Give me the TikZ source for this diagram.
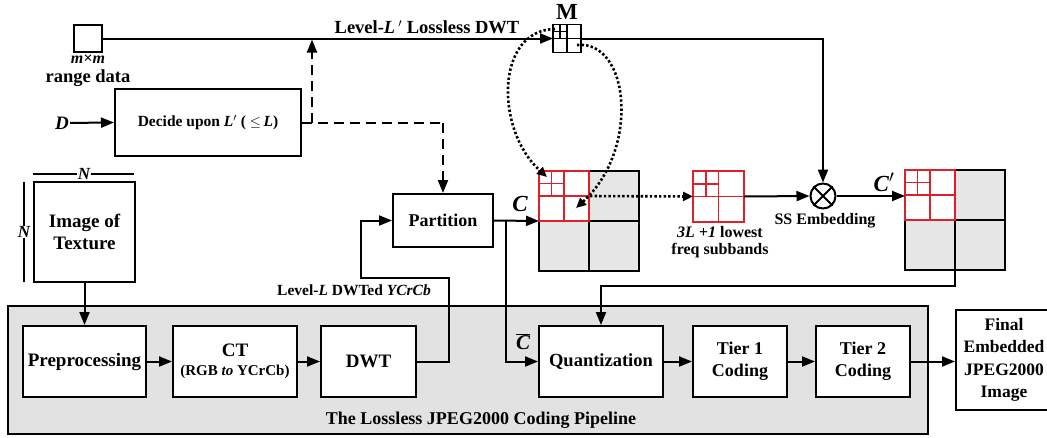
\documentclass[tikz,border=0pt]{standalone}
\usepackage{fontspec}
\setmainfont{Liberation Serif}
\usetikzlibrary{arrows.meta,calc}
\definecolor{gridred}{RGB}{222,32,40}
\definecolor{pipegray}{RGB}{226,226,226}
\definecolor{cellgray}{RGB}{230,230,230}
\newcommand\myfs[2]{\fontsize{#1}{#2}\selectfont}
\tikzset{
  blk/.style={draw, line width=2pt, fill=white, align=center, inner sep=0pt},
  arr/.style={line width=2pt, -{Triangle[length=13pt,width=10pt]}},
  dasharr/.style={line width=2pt, dash pattern=on 10pt off 6pt, -{Triangle[length=13pt,width=10pt]}},
  dashln/.style={line width=2pt, dash pattern=on 10pt off 6pt},
  dotarr/.style={line width=2.6pt, dash pattern=on 2.4pt off 2.2pt, -{Triangle[length=10pt,width=9pt]}},
  redline/.style={draw=gridred, line width=1.6pt},
  blkline/.style={draw=black, line width=2pt},
  gridnode/.style={inner sep=0pt, outer sep=0pt},
  lbl/.style={inner sep=1pt, align=center},
}
% red recursive grid: x0 y0 size
\newcommand\myredgrid[3]{%
  \fill[white] (#1,#2) rectangle ++(#3,#3);
  \draw[redline] ({#1+#3/2},#2) -- ++(0,#3) (#1,{#2+#3/2}) -- ++(#3,0);
  \draw[redline] ({#1+#3/4},#2) -- ++(0,{#3/2}) (#1,{#2+#3/4}) -- ++({#3/2},0);
  \draw[redline] (#1,#2) rectangle ++(#3,#3);
}
% big grid with gray cells and red LL quadrant
\newcommand\mybiggrid[3]{%
  \fill[cellgray] (#1,#2) rectangle ++(#3,#3);
  \draw[blkline] (#1,#2) rectangle ++(#3,#3);
  \draw[blkline] ({#1+#3/2},#2) -- ++(0,#3) (#1,{#2+#3/2}) -- ++(#3,0);
  \myredgrid{#1}{#2}{#3/2}
}
\begin{document}
\begin{tikzpicture}[x=1pt,y=-1pt, font=\bfseries\myfs{17.5}{21}]
\useasboundingbox (0,0) rectangle (1047,437);
\fill[white] (0,0) rectangle (1047,437);

% pipeline background
\draw[line width=2pt, fill=pipegray] (8,306) rectangle (928,434);
\node[lbl, font=\bfseries\myfs{18}{21}] (plabel) at (481,420) {The Lossless JPEG2000 Coding Pipeline};

% range data
\node[blk, minimum width=28pt, minimum height=27pt] (rd) at (88,38.5) {};
\node[lbl, inner sep=0pt, font=\bfseries\itshape\myfs{16}{18}] (mxm) at (88,59) {m×m};
\node[lbl, inner sep=0pt, font=\bfseries\myfs{18.5}{21}] (rdl) at (88,78) {range data};

% M grid
\node[gridnode, minimum width=28pt, minimum height=28pt] (M) at (567,38.5) {};
\fill[white] (553,24.5) rectangle ++(28,28);
\draw[line width=1.8pt] (553,24.5) rectangle ++(28,28);
\draw[line width=1.8pt] (567,24.5) -- ++(0,28) (553,38.5) -- ++(28,0);
\draw[line width=1.5pt] (560,24.5) -- ++(0,14) (553,31.5) -- ++(14,0);
\node[lbl, font=\bfseries\myfs{23}{25}] (Mlbl) at (567,12) {M};

\node[lbl, font=\bfseries\myfs{18.5}{21}] (lvl) at (427,27) {Level-\textit{L}\,$'$ Lossless DWT};

% decide
\node[blk, minimum width=186pt, minimum height=67pt, font=\bfseries\myfs{15.5}{18}] (dec) at (208,122.5) {Decide upon \textit{L}$'$ ( $\leq$\,\textit{L})};
\node[lbl, font=\bfseries\itshape\myfs{19}{21}] (D) at (62,123) {D};

% image of texture
\node[blk, minimum width=101pt, minimum height=100pt, font=\bfseries\myfs{19}{21.5}] (img) at (84.5,232) {Image of\\Texture};
\draw[line width=1.8pt] (33,174) -- (134,174);
\node[lbl, fill=white, inner sep=0.5pt, font=\bfseries\itshape\myfs{17}{18}] (Ntop) at (84,174) {N};
\draw[line width=1.8pt] (24,182) -- (24,282);
\node[lbl, fill=white, inner sep=0.5pt, font=\bfseries\itshape\myfs{17}{18}] (Nleft) at (24,232) {N};

% partition
\node[blk, minimum width=100pt, minimum height=53pt, font=\bfseries\myfs{18}{21}] (part) at (443,220.5) {Partition};

% pipeline boxes
\node[blk, minimum width=123pt, minimum height=71pt, font=\bfseries\myfs{19}{21}] (pre) at (84.5,361.5) {Preprocessing};
\node[blk, minimum width=124pt, minimum height=71pt] (ct) at (235,361.5) {{\myfs{19}{21}CT}\\[-2pt]{\myfs{15}{18}(RGB \textit{to} YCrCb)}};
\node[blk, minimum width=95pt, minimum height=71pt, font=\bfseries\myfs{19}{21}] (dwt) at (368.5,361.5) {DWT};
\node[blk, minimum width=124pt, minimum height=71pt, font=\bfseries\myfs{18.5}{21}] (quant) at (601,361.5) {Quantization};
\node[blk, minimum width=94pt, minimum height=71pt, font=\bfseries\myfs{18}{22}] (t1) at (740,361.5) {Tier 1\\Coding};
\node[blk, minimum width=94pt, minimum height=71pt, font=\bfseries\myfs{18}{22}] (t2) at (863,361.5) {Tier 2\\Coding};
\node[blk, minimum width=110pt, minimum height=100pt] (fin) at (1011,360) {};
\node[lbl, font=\bfseries\myfs{17.5}{22.5}] (fint) at (1004,360) {Final\\Embedded\\JPEG2000\\Image};

% grids
\node[gridnode, minimum width=100pt, minimum height=100pt] (Cg) at (589,221) {};
\mybiggrid{539}{171}{100}
\node[gridnode, minimum width=51pt, minimum height=51pt] (sub) at (718.5,196.5) {};
\myredgrid{693}{171}{51}
\node[gridnode, minimum width=100pt, minimum height=100pt] (Cp) at (955,220) {};
\mybiggrid{905}{170}{100}

% otimes
\node[draw, circle, line width=2pt, minimum size=25pt, inner sep=0pt, fill=white] (ot) at (823,196) {};
\draw[line width=2pt] (ot.north west) -- (ot.south east) (ot.north east) -- (ot.south west);
\node[lbl, font=\bfseries\myfs{16}{18}] (ssl) at (825,221) {SS Embedding};

\node[lbl, font=\bfseries\myfs{16}{17.5}] (sbl) at (720,242) {\textit{3L +1} lowest\\freq subbands};
\node[lbl, font=\bfseries\itshape\myfs{23}{25}] (Cl) at (520,204) {C};
\node[lbl, font=\bfseries\itshape\myfs{23}{25}] (Cpl) at (884,182) {C$'$};
\node[lbl, font=\bfseries\itshape\myfs{21}{22}] (Cbl) at (523,342) {$\overline{\mbox{\textit{C}}}$};
\node[lbl, font=\bfseries\myfs{15.5}{18}] (dwtl) at (354,290) {Level-\textit{L} DWTed \textit{YCrCb}};

% connectors
\draw[arr] (rd.east) -- (M.west);
\draw[arr] (M.east) -| (ot.north);
\draw[arr] (D) -- (dec.west);
\coordinate (dj) at (312,122.5);
\coordinate (dup) at (312,39.5);
\coordinate (dcorner) at (443,122.5);
\draw[dashln] (dec.east) -- (dcorner);
\draw[dasharr] (dcorner) -- (part.north);
\draw[dasharr] (dj) -- (dup);

\draw[arr] (img.south) -- (pre.north);
\draw[arr] (pre.east) -- (ct.west);
\draw[arr] (ct.east) -- (dwt.west);
\draw[arr] (dwt.east) -- (449,361.5) -- (449,278) -- (361,278) -- (361,220.5) -- (part.west);

\draw[arr] (part.east) -- (Cg.west);
\coordinate (cj) at (505.5,220.5);
\draw[arr] (cj) |- (quant.west);
\draw[arr] (Cp.south) -- ++(0,16) -| (quant.north);

\draw[arr] (quant.east) -- (t1.west);
\draw[arr] (t1.east) -- (t2.west);
\draw[arr] (t2.east) -- (t2.east -| fin.west);

\coordinate (cds) at (590,196);
\draw[dotarr] (cds) -- (sub.west);
\draw[arr] (sub.east) -- (ot.west);
\draw[arr] (ot.east) -- (ot.east -| Cp.west);

% dotted loops
\coordinate (mA) at (555,29);
\coordinate (cA) at (547,177);
\coordinate (mB) at (577,45);
\coordinate (cB) at (576,208);
\draw[dotarr] (mA) .. controls (495,30) and (495,130) .. (cA);
\draw[dotarr] (mB) .. controls (630,40) and (640,150) .. (cB);
\end{tikzpicture}
\end{document}
